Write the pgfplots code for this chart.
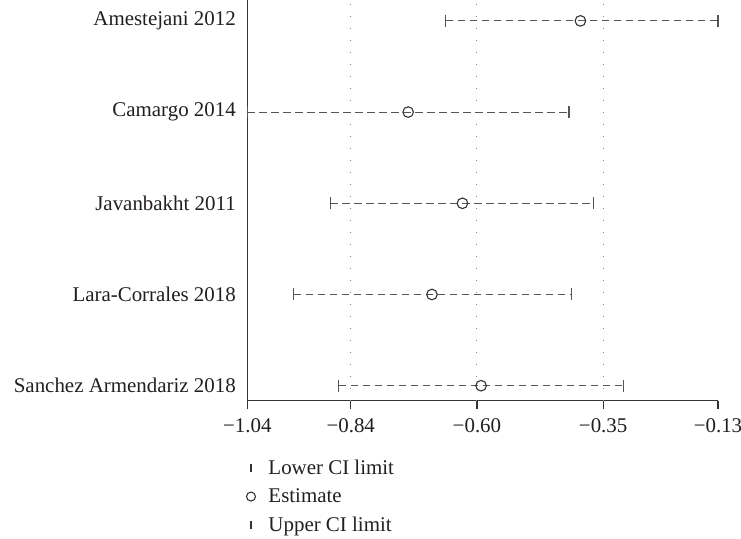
\documentclass[border=0pt]{standalone}
\usepackage{pgfplots}
\pgfplotsset{compat=1.18}
\usepackage{pgfplotstable}
\usepackage{fontspec}
\setmainfont{Liberation Serif}
\definecolor{axcol}{HTML}{333333}
\definecolor{ln}{HTML}{555555}
\definecolor{gridc}{HTML}{8A8A8A}
\definecolor{txt}{HTML}{231F20}
\pgfplotstableread{
row lo est hi
5 -0.656 -0.396 -0.130
4 -1.040 -0.729 -0.418
3 -0.880 -0.624 -0.370
2 -0.950 -0.683 -0.414
1 -0.863 -0.588 -0.313
}\data
\begin{document}
\begin{tikzpicture}
\useasboundingbox (-247.3bp,-138.3bp) rectangle (493.7bp,400.7bp);
\begin{axis}[
  at={(0,0)}, anchor=south west,
  scale only axis, width=470.7bp, height=400.7bp,
  xmin=-1.04, xmax=-0.13, ymin=0.8355, ymax=5.229,
  axis x line*=bottom, axis y line*=left,
  axis line style={axcol, line width=1.1bp},
  clip=false,
  font=\fontsize{21}{24}\selectfont,
  every tick label/.append style={text=txt},
  xtick={-1.04,-0.13}, xticklabels={−1.04,−0.13},
  extra x ticks={-0.84,-0.596,-0.352},
  extra x tick labels={−0.84,−0.60,−0.35},
  extra x tick style={grid=major},
  xticklabel style={yshift=-6bp},
  major grid style={gridc, line width=1bp, dash pattern=on 1bp off 11bp},
  tick align=outside, major tick length=8bp,
  x tick style={axcol, line width=1.1bp},
  ytick={1,2,3,4,5},
  yticklabels={Sanchez Armendariz 2018,Lara-Corrales 2018,Javanbakht 2011,Camargo 2014,Amestejani 2012},
  y tick style={draw=none},
  legend cell align=left,
  legend style={draw=none, fill=none, at={(0,0)}, anchor=north west,
     xshift=-4bp, yshift=-55bp, row sep=9bp, text=txt,
     /tikz/every odd column/.append style={column sep=11bp},
     font=\fontsize{21}{24}\selectfont},
]
\foreach \r/\a/\b in {5/-0.656/-0.130, 4/-1.040/-0.418, 3/-0.880/-0.370, 2/-0.950/-0.414, 1/-0.863/-0.313}{
  \edef\temp{\noexpand\addplot[ln, line width=1bp, dash pattern=on 7.5bp off 4.5bp, forget plot] coordinates {(\a,\r) (\b,\r)};}
  \temp
}
\addplot[only marks, mark=|, mark size=6bp, ln, mark options={solid, line width=1.1bp}, forget plot] table[x=lo, y=row] {\data};
\addplot[only marks, mark=|, mark size=6bp, ln, mark options={solid, line width=1.1bp}, forget plot] table[x=hi, y=row] {\data};
\addplot[only marks, mark=o, mark size=5.3bp, axcol, mark options={solid, fill=white, line width=1.1bp}, forget plot] table[x=est, y=row] {\data};
\addlegendimage{only marks, mark=|, mark size=4bp, axcol, mark options={line width=1.3bp}}
\addlegendentry{Lower CI limit}
\addlegendimage{only marks, mark=o, mark size=4.5bp, axcol, mark options={line width=1.1bp}}
\addlegendentry{Estimate}
\addlegendimage{only marks, mark=|, mark size=4bp, axcol, mark options={line width=1.3bp}}
\addlegendentry{Upper CI limit}
\end{axis}
\end{tikzpicture}
\end{document}
